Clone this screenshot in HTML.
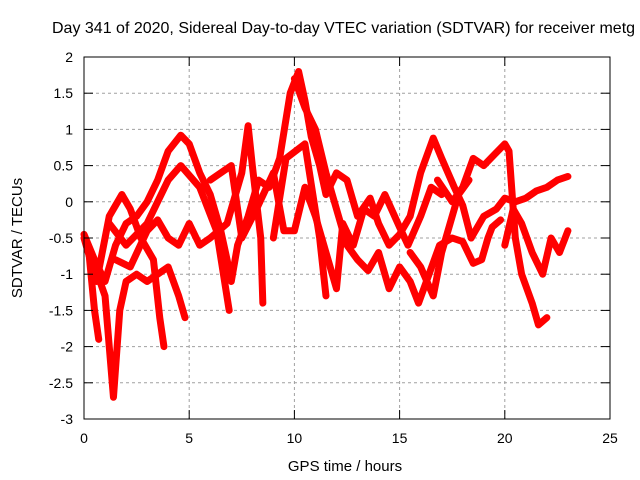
<!DOCTYPE html>
<html><head><meta charset="utf-8"><style>
body{margin:0;background:#fff;}
svg{display:block;font-family:"Liberation Sans",sans-serif;}
</style></head><body>
<svg id="chart" width="640" height="480" viewBox="0 0 640 480">
<rect width="640" height="480" fill="#fff"/>
<text x="52" y="33" font-size="16" fill="#000">Day 341 of 2020, Sidereal Day-to-day VTEC variation (SDTVAR) for receiver metg</text>
<g id="grid"></g>
<g id="series"></g>
<rect x="84" y="57" width="526" height="362" fill="none" stroke="#000" stroke-width="1"/>
<g id="axes"></g>
<text x="345" y="471" font-size="15" text-anchor="middle">GPS time / hours</text>
<text transform="translate(22,238) rotate(-90)" font-size="15" text-anchor="middle">SDTVAR / TECUs</text>
</svg>
<script>
const xTicks=[0,5,10,15,20,25];
const yTicks=[2,1.5,1,0.5,0,-0.5,-1,-1.5,-2,-2.5,-3];
const s1=[[0,-0.45],[0.5,-0.8],[1,-1.1],[1.5,-0.6],[2,-0.3],[2.5,-0.2],[3,0],[3.5,0.3],[4,0.7],[4.6,0.92],[5,0.8],[5.5,0.4],[6,0.1],[6.5,-0.4],[6.8,-0.8],[7,-1.1],[7.3,-0.6],[7.8,-0.2],[8.3,0.3],[8.8,0.2],[9.3,0.6],[9.8,1.5],[10.2,1.8],[10.5,1.4],[10.8,0.9],[11.2,0.5],[11.5,0.1],[12,0.4],[12.5,0.3],[13,-0.2],[13.6,0.05],[14,-0.3],[14.5,-0.6],[15,-0.45],[15.5,-0.2],[16,0.4],[16.6,0.88],[17,0.6],[17.6,0.2],[18,-0.05],[18.4,-0.5]];
const s2=[[0,-0.5],[0.6,-1.1],[1.2,-0.2],[1.8,0.1],[2.2,-0.1],[2.7,-0.5],[3.3,-0.8],[3.6,-1.6],[3.8,-2.0]];
const s3=[[0.4,-0.8],[1,-1.3],[1.2,-2.0],[1.4,-2.7],[1.7,-1.5],[2,-1.1],[2.5,-1.0],[3,-1.1],[3.5,-1.0],[4,-0.9],[4.5,-1.3],[4.8,-1.6]];
const s4=[[1.2,-0.3],[2,-0.6],[3,-0.3],[4,0.3],[4.6,0.5],[5.5,0.2],[6.3,-0.4],[6.9,-1.5]];
const s5=[[0.2,-0.6],[0.5,-1.5],[0.7,-1.9]];
const s6=[[1.5,-0.8],[2.2,-0.9],[3,-0.4],[3.5,-0.25],[4,-0.5],[4.5,-0.6],[5,-0.3],[5.5,-0.6],[6,-0.5],[6.8,-0.3],[7.5,0.4],[7.8,1.05],[8,0.5],[8.4,-0.5],[8.5,-1.4]];
const s7=[[6,0.3],[7,0.5],[7.5,-0.5],[8.2,-0.1],[9,0.4],[9.5,-0.4],[10,-0.4],[10.5,0.2],[11,-0.2],[11.5,-0.7],[12,-1.2],[12.3,-0.3],[12.8,-0.6],[13.3,-0.1],[13.8,-0.2],[14.3,0.1],[15,-0.35],[15.4,-0.6],[16,-0.2],[16.5,0.2],[17,0.1]];
const s8=[[9,-0.5],[9.6,0.6],[10.5,0.8],[11.2,-0.5],[11.5,-1.3]];
const s9=[[10,1.7],[10.5,1.3],[11,1.0],[11.5,0.4],[12,-0.1],[12.5,-0.6],[13,-0.8],[13.5,-0.95],[14,-0.7],[14.5,-1.2],[15,-0.9],[15.5,-1.1],[15.9,-1.4],[16.4,-1.0],[16.9,-0.6],[17.5,-0.5],[18,-0.55],[18.5,-0.85],[18.9,-0.8],[19.2,-0.5],[19.4,-0.35],[19.8,-0.25]];
const s10=[[16.8,0.3],[17.5,0.0],[18,0.2],[18.5,0.6],[19,0.5],[19.5,0.65],[20,0.8],[20.2,0.7],[20.3,0.3],[20.5,-0.5],[20.8,-1.0],[21.3,-1.4],[21.6,-1.7],[22,-1.6]];
const s11=[[18.4,-0.5],[19,-0.2],[19.6,-0.1],[20,0.05],[20.5,0.0],[21,0.05],[21.5,0.15],[22,0.2],[22.5,0.3],[23,0.35]];
const s12=[[20,-0.6],[20.4,-0.1],[20.8,-0.3],[21.3,-0.7],[21.8,-1.0],[22.2,-0.5],[22.6,-0.7],[23,-0.4]];
const s13=[[15.5,-0.7],[16,-0.9],[16.6,-1.3],[17,-0.7],[17.4,-0.3],[17.8,0.1],[18.3,0.3]];
const allSeries=[s1,s2,s3,s4,s5,s6,s7,s8,s9,s10,s11,s12,s13];
const NS='http://www.w3.org/2000/svg';
function xs(t){return 84+t*(526/25);}
function ys(v){return 57+(2-v)*(362/5);}
const grid=document.getElementById('grid'),axes=document.getElementById('axes'),ser=document.getElementById('series');
function mk(tag,attrs,parent){const e=document.createElementNS(NS,tag);for(const k in attrs)e.setAttribute(k,attrs[k]);parent.appendChild(e);return e;}
xTicks.forEach(t=>{const x=xs(t);
 if(t>0&&t<25){const g=mk('line',{x1:x,x2:x,y1:57,y2:419,stroke:'#a0a0a0','stroke-dasharray':'3,3'},grid);
 
 }
 const a=mk('line',{x1:x,x2:x,y1:419,y2:410,stroke:'#000'},axes);
 
 
 const b=mk('line',{x1:x,x2:x,y1:57,y2:66,stroke:'#000'},axes);
 
 
 const l=mk('text',{x:x,y:443,'font-size':14,'text-anchor':'middle'},axes);l.textContent=t;
 
 
});
yTicks.forEach(v=>{const y=ys(v);
 if(v<2&&v>-3){const g=mk('line',{x1:84,x2:610,y1:y,y2:y,stroke:'#a0a0a0','stroke-dasharray':'3,3'},grid);
 
 }
 const a=mk('line',{x1:84,x2:93,y1:y,y2:y,stroke:'#000'},axes);
 
 
 const b=mk('line',{x1:601,x2:610,y1:y,y2:y,stroke:'#000'},axes);
 
 
 const l=mk('text',{x:73,y:y+5,'font-size':14,'text-anchor':'end'},axes);l.textContent=v;
 
 
});
allSeries.forEach((s,i)=>{
 const p=mk('polyline',{points:s.map(d=>xs(d[0])+','+ys(d[1])).join(' '),fill:'none',stroke:'#ff0000','stroke-width':7,'stroke-linejoin':'round','stroke-linecap':'round'},ser);
 
 
});
</script>
</body></html>
